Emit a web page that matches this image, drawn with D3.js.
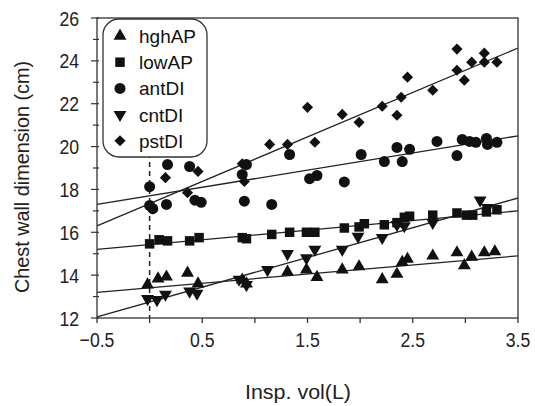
<!DOCTYPE html>
<html>
<head>
<meta charset="utf-8">
<script src="https://cdn.jsdelivr.net/npm/d3@7"></script>
<style>
  body { margin: 0; background: #fff; }
  svg { display: block; }
  .tick-label { font-family: "Liberation Sans", Arial, sans-serif; font-size: 21px; fill: #222; }
  .legend-label { font-family: "Liberation Sans", Arial, sans-serif; font-size: 19px; fill: #111; }
</style>
</head>
<body>
<div id="chart"></div>
<script>
// series values: [insp. vol (L), dimension (cm)]
const hghAP = [
    [-0.02, 13.55], [0.08, 13.83], [0.16, 13.92], [0.36, 14.1], [0.46, 13.6],
    [0.88, 13.78], [0.92, 13.6], [1.31, 14.15], [1.49, 14.25], [1.59, 13.9],
    [1.83, 14.25], [1.99, 14.4], [2.21, 13.8], [2.35, 14.05], [2.40, 14.6],
    [2.45, 14.75], [2.69, 14.9], [2.92, 15.05], [2.99, 14.45], [3.06, 14.85],
    [3.18, 15.05], [3.28, 15.1]
];
const lowAP = [
    [0.0, 15.46], [0.09, 15.65], [0.17, 15.6], [0.38, 15.6], [0.47, 15.75],
    [0.88, 15.75], [0.92, 15.7], [1.16, 15.9], [1.33, 16.0], [1.49, 16.0],
    [1.57, 16.0], [1.85, 16.2], [1.99, 16.25], [2.04, 16.4], [2.23, 16.35],
    [2.35, 16.45], [2.42, 16.7], [2.47, 16.75], [2.69, 16.8], [2.92, 16.9],
    [3.01, 16.8], [3.07, 16.8], [3.20, 16.95], [3.30, 17.05]
];
const antDI = [
    [0.0, 18.13], [0.17, 19.16], [0.38, 19.07], [0.0, 17.25], [0.03, 17.1],
    [0.16, 17.3], [0.43, 17.5], [0.49, 17.4], [0.88, 18.7], [0.90, 17.45],
    [0.92, 19.16], [1.16, 17.3], [1.33, 19.63], [1.52, 18.5], [1.59, 18.65],
    [1.85, 18.35], [2.01, 19.63], [2.23, 19.3], [2.35, 19.96], [2.40, 19.3],
    [2.47, 19.87], [2.73, 20.24], [2.92, 19.58], [2.97, 20.33], [3.04, 20.24],
    [3.10, 20.2], [3.20, 20.38], [3.21, 20.1], [3.30, 20.2]
];
const cntDI = [
    [-0.02, 12.9], [0.07, 12.85], [0.15, 13.1], [0.38, 13.25], [0.45, 13.15],
    [0.85, 13.8], [0.92, 13.55], [1.12, 14.25], [1.31, 15.0], [1.49, 14.8],
    [1.57, 15.2], [1.83, 15.2], [1.98, 15.8], [2.21, 15.75], [2.35, 16.35],
    [2.42, 16.3], [2.69, 16.45], [3.14, 17.5], [3.21, 17.15]
];
const pstDI = [
    [0.02, 17.2], [0.15, 18.55], [0.36, 17.85], [0.46, 18.84], [0.88, 19.2],
    [0.90, 18.37], [1.14, 20.1], [1.31, 20.1], [1.57, 20.2], [1.50, 21.83],
    [1.83, 21.5], [1.99, 21.13], [2.21, 21.88], [2.35, 21.46], [2.39, 22.3],
    [2.45, 23.24], [2.69, 22.63], [2.92, 24.55], [2.92, 23.56], [2.99, 23.1],
    [3.06, 23.94], [3.18, 24.36], [3.18, 23.94], [3.30, 23.94]
];

// fitted lines, value at x = -0.5 and x = 3.5
const fitX = [-0.5, 3.5];
const hghAPFit = [13.2, 14.9];
const lowAPFit = [15.2, 17.0];
const antDIFit = [17.3, 20.5];
const cntDIFit = [12.05, 17.6];
const pstDIFit = [16.3, 24.6];

const seriesNames = ["hghAP", "lowAP", "antDI", "cntDI", "pstDI"];
const xTicks = [-0.5, 0.5, 1.5, 2.5, 3.5];
const xMinor = [0, 1, 2, 3];
const yTicks = [12, 14, 16, 18, 20, 22, 24, 26];

const series = [
    {name: "hghAP", pts: hghAP, fit: hghAPFit},
    {name: "lowAP", pts: lowAP, fit: lowAPFit},
    {name: "antDI", pts: antDI, fit: antDIFit},
    {name: "cntDI", pts: cntDI, fit: cntDIFit},
    {name: "pstDI", pts: pstDI, fit: pstDIFit}
];

const width = 535, height = 406;
const margin = {top: 18, right: 17, bottom: 88, left: 97};
const w = width - margin.left - margin.right;
const h = height - margin.top - margin.bottom;
const squeeze = 0.84; // the tick font is narrow

const svg = d3.select("#chart").append("svg")
    .attr("width", width)
    .attr("height", height);

const g = svg.append("g")
    .attr("transform", `translate(${margin.left},${margin.top})`);

const x = d3.scaleLinear().domain([-0.5, 3.5]).range([0, w]);
const y = d3.scaleLinear().domain([12, 26]).range([h, 0]);

// symbols per series
const symbolOf = {
    hghAP: {type: d3.symbolTriangle, size: 72, rot: 0},
    lowAP: {type: d3.symbolSquare, size: 90, rot: 0},
    antDI: {type: d3.symbolCircle, size: 95, rot: 0},
    cntDI: {type: d3.symbolTriangle, size: 72, rot: 180},
    pstDI: {type: d3.symbolSquare, size: 62, rot: 45}
};

// dashed line at 0
g.append("line")
    .attr("x1", x(0)).attr("x2", x(0))
    .attr("y1", 0).attr("y2", h)
    .attr("stroke", "#222")
    .attr("stroke-width", 1.5)
    .attr("stroke-dasharray", "5,4");

// fit lines
const line = d3.line().x(d => x(d[0])).y(d => y(d[1]));
g.selectAll(".fit")
    .data(series)
    .join("path")
    .attr("class", "fit")
    .attr("d", d => line([[fitX[0], d.fit[0]], [fitX[1], d.fit[1]]]))
    .attr("fill", "none")
    .attr("stroke", "#222")
    .attr("stroke-width", 1.3);

// points
series.forEach(s => {
    const sym = symbolOf[s.name];
    g.selectAll(".pt-" + s.name)
        .data(s.pts)
        .join("path")
        .attr("class", "pt-" + s.name)
        .attr("d", d3.symbol().type(sym.type).size(sym.size))
        .attr("transform", d => `translate(${x(d[0])},${y(d[1])}) rotate(${sym.rot})`)
        .attr("fill", "#111");
});

// frame
g.append("rect")
    .attr("width", w).attr("height", h)
    .attr("fill", "none")
    .attr("stroke", "#333")
    .attr("stroke-width", 1.3);

// x axis
const xAxis = g.append("g").attr("transform", `translate(0,${h})`);
xAxis.selectAll(".xt")
    .data(xTicks.concat(xMinor))
    .join("line")
    .attr("x1", d => x(d)).attr("x2", d => x(d))
    .attr("y1", 0).attr("y2", 5)
    .attr("stroke", "#333").attr("stroke-width", 1.3);
xAxis.selectAll(".xl")
    .data(xTicks)
    .join("text")
    .attr("class", "tick-label")
    .attr("transform", d => `translate(${x(d)},29) scale(${squeeze},1)`)
    .attr("text-anchor", "middle")
    .text(d => d3.format(".1f")(d).replace("-", "\u2212"));

// y axis
const yAxis = g.append("g");
yAxis.selectAll(".yt")
    .data(d3.range(12, 27, 1))
    .join("line")
    .attr("x1", d => d % 2 === 0 ? -6 : -4).attr("x2", 2)
    .attr("y1", d => y(d)).attr("y2", d => y(d))
    .attr("stroke", "#333").attr("stroke-width", 1.2);
yAxis.selectAll(".yl")
    .data(yTicks)
    .join("text")
    .attr("class", "tick-label")
    .attr("transform", d => `translate(-18,${y(d) + 7.5}) scale(${squeeze},1)`)
    .attr("text-anchor", "end")
    .text(d => d);

// axis titles
svg.append("text")
    .attr("class", "tick-label")
    .attr("transform", `translate(29,177) rotate(-90)`)
    .attr("text-anchor", "middle")
    .attr("textLength", 232)
    .attr("lengthAdjust", "spacingAndGlyphs")
    .text("Chest wall dimension (cm)");

svg.append("text")
    .attr("class", "tick-label")
    .attr("x", 298)
    .attr("y", 399)
    .attr("text-anchor", "middle")
    .attr("textLength", 106)
    .attr("lengthAdjust", "spacingAndGlyphs")
    .text("Insp. vol(L)");

// legend
const legend = svg.append("g").attr("transform", "translate(103,19)");
legend.append("rect")
    .attr("width", 104).attr("height", 138)
    .attr("rx", 16).attr("ry", 16)
    .attr("fill", "#fff")
    .attr("stroke", "#333")
    .attr("stroke-width", 1.3);
const rows = legend.selectAll(".lg")
    .data(seriesNames)
    .join("g")
    .attr("transform", (d, i) => `translate(0,${17 + i * 26.2})`);
rows.append("path")
    .attr("d", d => d3.symbol().type(symbolOf[d].type).size(symbolOf[d].size)())
    .attr("transform", d => `translate(17,0) rotate(${symbolOf[d].rot})`)
    .attr("fill", "#111");
rows.append("text")
    .attr("class", "legend-label")
    .attr("x", 36)
    .attr("y", 7)
    .text(d => d);
</script>
</body>
</html>
